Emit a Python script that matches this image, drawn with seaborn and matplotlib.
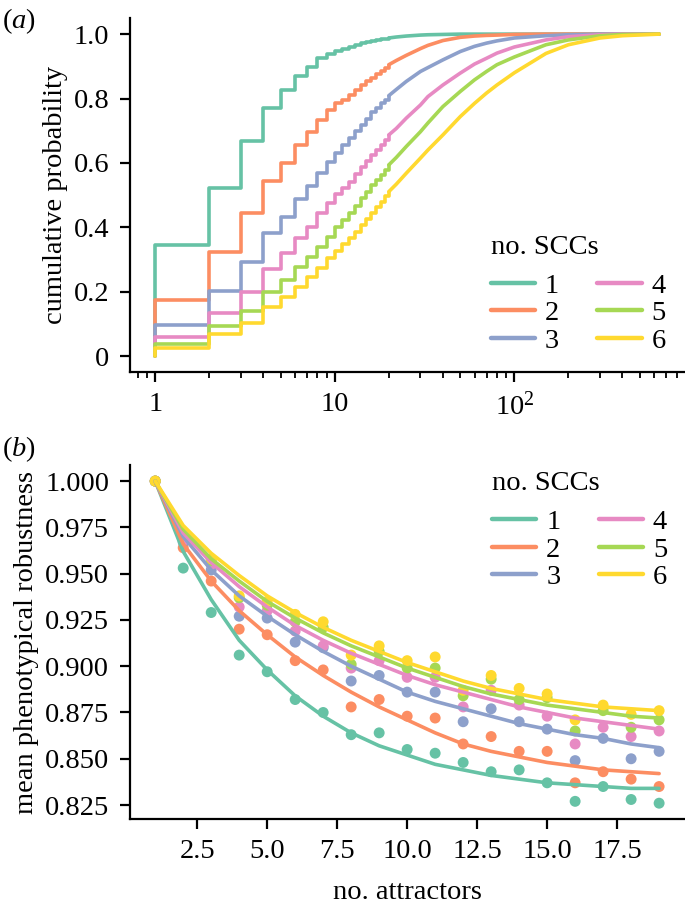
import numpy as np
import pandas as pd
import matplotlib
matplotlib.use("Agg")
import matplotlib.pyplot as plt
from matplotlib.ticker import LogLocator, NullFormatter
import seaborn as sns

# ---------------- data ----------------
scc_levels = ["1", "2", "3", "4", "5", "6"]
palette = sns.color_palette("Set2", 6)

# panel (a): cumulative probability of number of attractors
step_x = list(range(1, 21))
cdf_step_1 = [0.345, 0.521, 0.669, 0.770, 0.825, 0.871, 0.899, 0.925, 0.938, 0.948,
              0.955, 0.961, 0.967, 0.971, 0.975, 0.978, 0.981, 0.984, 0.986, 0.988]
cdf_step_2 = [0.176, 0.324, 0.445, 0.544, 0.599, 0.656, 0.697, 0.734, 0.763, 0.785,
              0.797, 0.810, 0.826, 0.841, 0.854, 0.865, 0.876, 0.886, 0.896, 0.905]
cdf_step_3 = [0.096, 0.203, 0.293, 0.381, 0.433, 0.487, 0.528, 0.568, 0.604, 0.632,
              0.656, 0.677, 0.698, 0.718, 0.738, 0.757, 0.771, 0.785, 0.797, 0.809]
cdf_step_4 = [0.060, 0.135, 0.200, 0.272, 0.319, 0.366, 0.402, 0.444, 0.475, 0.503,
              0.522, 0.542, 0.566, 0.588, 0.607, 0.625, 0.641, 0.656, 0.672, 0.687]
cdf_step_5 = [0.039, 0.094, 0.141, 0.200, 0.236, 0.278, 0.309, 0.340, 0.371, 0.400,
              0.422, 0.444, 0.467, 0.490, 0.511, 0.532, 0.548, 0.563, 0.579, 0.594]
cdf_step_6 = [0.024, 0.068, 0.104, 0.153, 0.184, 0.215, 0.246, 0.274, 0.304, 0.328,
              0.347, 0.366, 0.387, 0.407, 0.426, 0.444, 0.462, 0.480, 0.496, 0.511]

tail_x = [20, 22, 25, 30, 33, 40, 50, 60, 70, 80, 100, 150, 200, 300, 400, 640]
cdf_tail_1 = [0.988, 0.991, 0.994, 0.997, 0.998, 0.999, 1.0, 1.0, 1.0, 1.0, 1.0, 1.0, 1.0, 1.0, 1.0, 1.0]
cdf_tail_2 = [0.905, 0.918, 0.934, 0.955, 0.965, 0.980, 0.990, 0.994, 0.996, 0.997, 0.999, 1.0, 1.0, 1.0, 1.0, 1.0]
cdf_tail_3 = [0.809, 0.828, 0.853, 0.884, 0.896, 0.920, 0.946, 0.962, 0.972, 0.979, 0.988, 0.995, 0.998, 1.0, 1.0, 1.0]
cdf_tail_4 = [0.687, 0.707, 0.739, 0.780, 0.806, 0.842, 0.879, 0.907, 0.925, 0.941, 0.960, 0.982, 0.992, 0.998, 1.0, 1.0]
cdf_tail_5 = [0.594, 0.617, 0.651, 0.697, 0.724, 0.775, 0.822, 0.858, 0.884, 0.905, 0.929, 0.967, 0.982, 0.995, 0.999, 1.0]
cdf_tail_6 = [0.511, 0.534, 0.568, 0.615, 0.640, 0.687, 0.744, 0.785, 0.817, 0.842, 0.880, 0.940, 0.967, 0.988, 0.995, 1.0]

# panel (b): mean phenotypical robustness vs number of attractors
attr_x = list(range(1, 20))
rob_pts_1 = [1.000, 0.953, 0.929, 0.906, 0.897, 0.882, 0.875, 0.863, 0.864, 0.855,
             0.853, 0.848, 0.843, 0.844, 0.837, 0.827, 0.835, 0.828, 0.826]
rob_pts_2 = [1.000, 0.964, 0.946, 0.920, 0.917, 0.903, 0.898, 0.878, 0.882, 0.873,
             0.872, 0.858, 0.862, 0.854, 0.854, 0.837, 0.843, 0.839, 0.835]
rob_pts_3 = [1.000, 0.967, 0.952, 0.927, 0.926, 0.913, 0.910, 0.892, 0.895, 0.886,
             0.886, 0.870, 0.877, 0.870, 0.866, 0.849, 0.861, 0.850, 0.854]
rob_pts_4 = [1.000, 0.968, 0.955, 0.932, 0.930, 0.919, 0.911, 0.899, 0.903, 0.894,
             0.894, 0.878, 0.887, 0.879, 0.873, 0.858, 0.867, 0.862, 0.865]
rob_pts_5 = [1.000, 0.971, 0.957, 0.937, 0.933, 0.924, 0.921, 0.901, 0.908, 0.899,
             0.899, 0.884, 0.893, 0.882, 0.883, 0.865, 0.876, 0.867, 0.871]
rob_pts_6 = [1.000, 0.972, 0.958, 0.938, 0.935, 0.928, 0.924, 0.906, 0.911, 0.903,
             0.905, 0.887, 0.895, 0.888, 0.885, 0.871, 0.879, 0.874, 0.876]

rob_fit_1 = [1.000, 0.962, 0.936, 0.914, 0.898, 0.884, 0.873, 0.864, 0.857, 0.852,
             0.847, 0.844, 0.841, 0.839, 0.837, 0.836, 0.835, 0.834, 0.834]
rob_fit_2 = [1.000, 0.966, 0.946, 0.930, 0.917, 0.905, 0.895, 0.886, 0.878, 0.871,
             0.864, 0.858, 0.854, 0.851, 0.848, 0.846, 0.844, 0.843, 0.842]
rob_fit_3 = [1.000, 0.970, 0.952, 0.938, 0.927, 0.917, 0.908, 0.900, 0.893, 0.886,
             0.881, 0.877, 0.873, 0.869, 0.866, 0.863, 0.861, 0.858, 0.856]
rob_fit_4 = [1.000, 0.972, 0.956, 0.943, 0.932, 0.922, 0.914, 0.907, 0.901, 0.895,
             0.890, 0.886, 0.882, 0.878, 0.875, 0.872, 0.870, 0.868, 0.866]
rob_fit_5 = [1.000, 0.974, 0.958, 0.946, 0.935, 0.926, 0.918, 0.911, 0.905, 0.899,
             0.894, 0.889, 0.885, 0.882, 0.879, 0.877, 0.875, 0.873, 0.872]
rob_fit_6 = [1.000, 0.976, 0.961, 0.949, 0.938, 0.929, 0.921, 0.914, 0.908, 0.902,
             0.897, 0.892, 0.888, 0.885, 0.882, 0.880, 0.878, 0.877, 0.876]

cdf_steps = [cdf_step_1, cdf_step_2, cdf_step_3, cdf_step_4, cdf_step_5, cdf_step_6]
cdf_tails = [cdf_tail_1, cdf_tail_2, cdf_tail_3, cdf_tail_4, cdf_tail_5, cdf_tail_6]
rob_pts = [rob_pts_1, rob_pts_2, rob_pts_3, rob_pts_4, rob_pts_5, rob_pts_6]
rob_fit = [rob_fit_1, rob_fit_2, rob_fit_3, rob_fit_4, rob_fit_5, rob_fit_6]

# ---------------- tables ----------------
rows = []
for lev, ys in zip(scc_levels, cdf_steps):
    rows.append((1, 0.0, lev))
    rows += [(x, y, lev) for x, y in zip(step_x, ys)]
df_step = pd.DataFrame(rows, columns=["x", "y", "scc"])
df_tail = pd.DataFrame([(x, y, lev) for lev, ys in zip(scc_levels, cdf_tails)
                        for x, y in zip(tail_x, ys)], columns=["x", "y", "scc"])
df_pts = pd.DataFrame([(x, y, lev) for lev, ys in zip(scc_levels, rob_pts)
                       for x, y in zip(attr_x, ys)], columns=["x", "y", "scc"])
df_fit = pd.DataFrame([(x, y, lev) for lev, ys in zip(scc_levels, rob_fit)
                       for x, y in zip(attr_x, ys)], columns=["x", "y", "scc"])

# ---------------- style ----------------
sns.set_theme(style="ticks")
FS = 20.5
plt.rcParams.update({
    "font.family": ["Liberation Serif", "DejaVu Serif"],
    "mathtext.fontset": "custom",
    "mathtext.rm": "Liberation Serif",
    "mathtext.it": "Liberation Serif:italic",
    "font.size": FS,
    "axes.linewidth": 1.6,
    "xtick.major.width": 1.6, "ytick.major.width": 1.6,
    "xtick.minor.width": 1.3,
    "xtick.major.size": 7, "ytick.major.size": 7,
    "xtick.minor.size": 4,
    "xtick.major.pad": 7, "ytick.major.pad": 8,
    "xtick.labelsize": FS, "ytick.labelsize": FS,
    "axes.labelsize": FS,
    "text.color": "black", "axes.labelcolor": "black",
    "xtick.color": "black", "ytick.color": "black", "axes.edgecolor": "black",
})

fig = plt.figure(figsize=(6.85, 9.05), dpi=100)
ax1 = fig.add_axes([0.1898, 0.5886, 0.8092, 0.3915])
ax2 = fig.add_axes([0.1898, 0.0947, 0.8092, 0.3915])

LW = 2.6
fs_px = FS * 100 / 72
leg_kw = dict(title="no. SCCs", ncol=2, frameon=False, alignment="left", fontsize=FS,
              title_fontsize=FS, handlelength=1.55, handletextpad=0.35,
              columnspacing=1.35, labelspacing=0.06)

# ---- panel a ----
ax1.set_xscale("log")
sns.lineplot(data=df_step, x="x", y="y", hue="scc", hue_order=scc_levels, palette=palette,
             estimator=None, drawstyle="steps-post", linewidth=LW, ax=ax1, legend=True)
sns.lineplot(data=df_tail, x="x", y="y", hue="scc", hue_order=scc_levels, palette=palette,
             estimator=None, linewidth=LW, ax=ax1, legend=False)
ax1.set_xticks([1, 10, 100], labels=["1", "10", "10$^2$"])
ax1.xaxis.set_minor_locator(LogLocator(base=10, subs=np.arange(2, 10)))
ax1.xaxis.set_minor_formatter(NullFormatter())
ax1.set_yticks([0, 0.2, 0.4, 0.6, 0.8, 1.0], labels=["0", "0.2", "0.4", "0.6", "0.8", "1.0"])
ax1.set_xlabel("")
ax1.set_ylabel("cumulative probability")
h, l = ax1.get_legend_handles_labels()
leg1 = ax1.legend(h, l, loc="lower right", bbox_to_anchor=(1.0, 0.0),
                  borderaxespad=0.25, **leg_kw)
leg1._legend_box.sep = 0.32 * fs_px
for hd in leg1.legend_handles:
    hd.set_linewidth(3.2)

# ---- panel b ----
sns.scatterplot(data=df_pts, x="x", y="y", hue="scc", hue_order=scc_levels, palette=palette,
                s=62, linewidth=0, ax=ax2, legend=False, zorder=2)
sns.lineplot(data=df_fit, x="x", y="y", hue="scc", hue_order=scc_levels, palette=palette,
             estimator=None, linewidth=LW, ax=ax2, legend=True, zorder=3)
ax2.set_xticks([2.5, 5.0, 7.5, 10.0, 12.5, 15.0, 17.5],
               labels=["2.5", "5.0", "7.5", "10.0", "12.5", "15.0", "17.5"])
yt = [0.825, 0.850, 0.875, 0.900, 0.925, 0.950, 0.975, 1.000]
ax2.set_yticks(yt, labels=[f"{v:.3f}" for v in yt])
ax2.set_xlabel("no. attractors", labelpad=12)
ax2.set_ylabel("mean phenotypical robustness")
h, l = ax2.get_legend_handles_labels()
leg2 = ax2.legend(h, l, loc="upper right", bbox_to_anchor=(1.0, 1.03),
                  borderaxespad=0.2, **leg_kw)
leg2._legend_box.sep = 0.32 * fs_px
for hd in leg2.legend_handles:
    hd.set_linewidth(3.2)

for ax in (ax1, ax2):
    sns.despine(ax=ax)

fig.text(0.003, 0.993, r"($\mathit{a}$)", fontsize=FS, va="top", ha="left")
fig.text(0.003, 0.520, r"($\mathit{b}$)", fontsize=FS, va="top", ha="left")

fig.savefig("out.png", dpi=100)
